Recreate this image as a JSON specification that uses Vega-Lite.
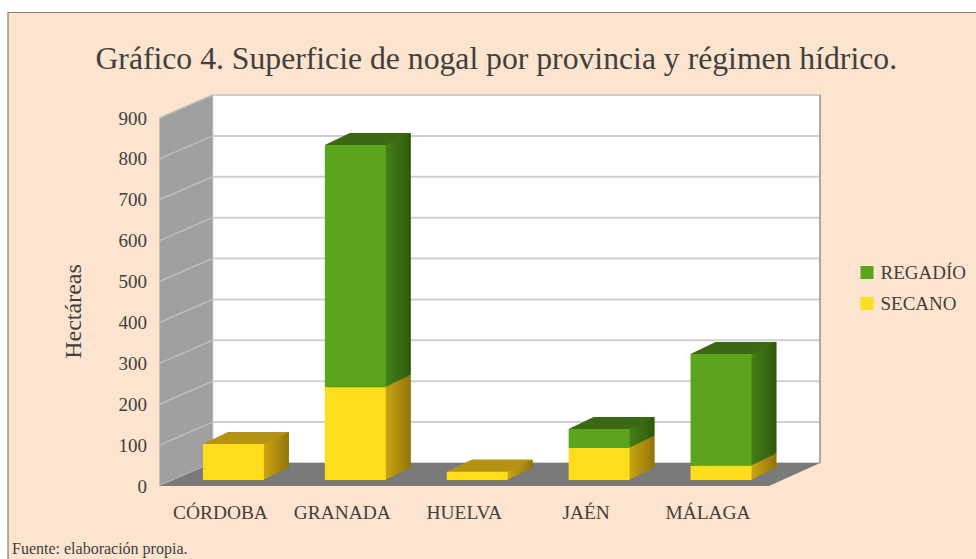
{"$schema":"https://vega.github.io/schema/vega-lite/v6.json","width":609.5,"height":368,"autosize":"none","padding":{"left":159.5,"top":118,"right":207,"bottom":73},"background":"#ffffff","config":{"view":{"stroke":null},"font":"Liberation Serif"},"resolve":{"axis":{"x":"independent","y":"independent"}},"title":{"text":"Gráfico 4. Superficie de nogal por provincia y régimen hídrico.","font":"Liberation Serif","fontSize":31.7,"fontWeight":"normal","color":"#404040","anchor":"middle","frame":"group","dx":32,"offset":0,"dy":64},"data":{"values":[{"provincia":"CÓRDOBA","regimen":"SECANO","hectareas":88},{"provincia":"GRANADA","regimen":"SECANO","hectareas":227},{"provincia":"GRANADA","regimen":"REGADÍO","hectareas":592},{"provincia":"HUELVA","regimen":"SECANO","hectareas":20},{"provincia":"JAÉN","regimen":"SECANO","hectareas":78},{"provincia":"JAÉN","regimen":"REGADÍO","hectareas":47},{"provincia":"MÁLAGA","regimen":"SECANO","hectareas":35},{"provincia":"MÁLAGA","regimen":"REGADÍO","hectareas":273}]},"transform":[{"stack":"hectareas","groupby":["provincia"],"sort":[{"field":"regimen","order":"descending"}],"as":["y0","y1"]}],"datasets":{"ticks":[{"v":0},{"v":100},{"v":200},{"v":300},{"v":400},{"v":500},{"v":600},{"v":700},{"v":800},{"v":900}],"one":[{"a":1}]},"layer":[{"data":{"name":"one"},"mark":{"type":"rect","fill":"#FDE4CE","stroke":"#8f7a66","strokeWidth":1.2},"encoding":{"x":{"value":-151.5},"x2":{"value":830},"y":{"value":-105.5},"y2":{"value":460}}},{"data":{"name":"one"},"mark":{"type":"rect","fill":"#ffffff","stroke":"#c8c8c8","strokeWidth":1.5},"encoding":{"x":{"value":53},"x2":{"value":660.5},"y":{"value":-23},"y2":{"value":345}}},{"data":{"name":"ticks"},"mark":{"type":"rule","color":"#cfcfcf","strokeWidth":2,"yOffset":-23},"encoding":{"x":{"value":53},"x2":{"value":660.5},"y":{"field":"v","type":"quantitative","axis":null}}},{"data":{"name":"one"},"mark":{"type":"rule","color":"#a8a8a8","strokeWidth":2},"encoding":{"x":{"value":660.5},"y":{"value":-23},"y2":{"value":345}}},{"data":{"name":"one"},"mark":{"type":"point","filled":true,"opacity":1,"size":4,"color":"#a0a0a0","shape":"M0,0L53,-23L53,-391L0,-368Z"},"encoding":{"x":{"value":0},"y":{"value":368}}},{"data":{"name":"ticks"},"mark":{"type":"rule","color":"#bdbdbd","strokeWidth":1.5,"y2Offset":-23},"encoding":{"x":{"value":0},"x2":{"value":53},"y":{"field":"v","type":"quantitative","axis":null},"y2":{"field":"v"}}},{"data":{"name":"one"},"mark":{"type":"point","filled":true,"opacity":1,"size":4,"color":"#7a7a7a","shape":"M0,0L609.5,0L660.5,-23L53,-23Z"},"encoding":{"x":{"value":0},"y":{"value":368}}},{"mark":{"type":"bar","width":61,"xOffset":38,"yOffset":-18,"y2Offset":-18},"encoding":{"x":{"field":"provincia","type":"nominal","sort":null,"axis":null},"y":{"field":"y1","type":"quantitative","axis":null},"y2":{"field":"y0"},"color":{"condition":{"test":"datum.regimen==='SECANO'","value":"#93770a"},"value":"#2f5a0c"}}},{"mark":{"type":"bar","width":61,"xOffset":35.9,"yOffset":-17,"y2Offset":-17},"encoding":{"x":{"field":"provincia","type":"nominal","sort":null,"axis":null},"y":{"field":"y1","type":"quantitative","axis":null},"y2":{"field":"y0"},"color":{"condition":{"test":"datum.regimen==='SECANO'","value":"#997b0b"},"value":"#315d0d"}}},{"mark":{"type":"bar","width":61,"xOffset":33.8,"yOffset":-16,"y2Offset":-16},"encoding":{"x":{"field":"provincia","type":"nominal","sort":null,"axis":null},"y":{"field":"y1","type":"quantitative","axis":null},"y2":{"field":"y0"},"color":{"condition":{"test":"datum.regimen==='SECANO'","value":"#9e7f0b"},"value":"#32610e"}}},{"mark":{"type":"bar","width":61,"xOffset":31.7,"yOffset":-15,"y2Offset":-15},"encoding":{"x":{"field":"provincia","type":"nominal","sort":null,"axis":null},"y":{"field":"y1","type":"quantitative","axis":null},"y2":{"field":"y0"},"color":{"condition":{"test":"datum.regimen==='SECANO'","value":"#a2830c"},"value":"#346410"}}},{"mark":{"type":"bar","width":61,"xOffset":29.7,"yOffset":-14,"y2Offset":-14},"encoding":{"x":{"field":"provincia","type":"nominal","sort":null,"axis":null},"y":{"field":"y1","type":"quantitative","axis":null},"y2":{"field":"y0"},"color":{"condition":{"test":"datum.regimen==='SECANO'","value":"#a7870c"},"value":"#366711"}}},{"mark":{"type":"bar","width":61,"xOffset":27.6,"yOffset":-13,"y2Offset":-13},"encoding":{"x":{"field":"provincia","type":"nominal","sort":null,"axis":null},"y":{"field":"y1","type":"quantitative","axis":null},"y2":{"field":"y0"},"color":{"condition":{"test":"datum.regimen==='SECANO'","value":"#ac8b0d"},"value":"#386b12"}}},{"mark":{"type":"bar","width":61,"xOffset":25.5,"yOffset":-12,"y2Offset":-12},"encoding":{"x":{"field":"provincia","type":"nominal","sort":null,"axis":null},"y":{"field":"y1","type":"quantitative","axis":null},"y2":{"field":"y0"},"color":{"condition":{"test":"datum.regimen==='SECANO'","value":"#b18f0e"},"value":"#396d13"}}},{"mark":{"type":"bar","width":61,"xOffset":23.4,"yOffset":-11,"y2Offset":-11},"encoding":{"x":{"field":"provincia","type":"nominal","sort":null,"axis":null},"y":{"field":"y1","type":"quantitative","axis":null},"y2":{"field":"y0"},"color":{"condition":{"test":"datum.regimen==='SECANO'","value":"#b5920e"},"value":"#3b7014"}}},{"mark":{"type":"bar","width":61,"xOffset":21.3,"yOffset":-10,"y2Offset":-10},"encoding":{"x":{"field":"provincia","type":"nominal","sort":null,"axis":null},"y":{"field":"y1","type":"quantitative","axis":null},"y2":{"field":"y0"},"color":{"condition":{"test":"datum.regimen==='SECANO'","value":"#ba960f"},"value":"#3d7315"}}},{"mark":{"type":"bar","width":61,"xOffset":19.2,"yOffset":-9,"y2Offset":-9},"encoding":{"x":{"field":"provincia","type":"nominal","sort":null,"axis":null},"y":{"field":"y1","type":"quantitative","axis":null},"y2":{"field":"y0"},"color":{"condition":{"test":"datum.regimen==='SECANO'","value":"#bf9a0f"},"value":"#3f7616"}}},{"mark":{"type":"bar","width":61,"xOffset":17.2,"yOffset":-8,"y2Offset":-8},"encoding":{"x":{"field":"provincia","type":"nominal","sort":null,"axis":null},"y":{"field":"y1","type":"quantitative","axis":null},"y2":{"field":"y0"},"color":{"condition":{"test":"datum.regimen==='SECANO'","value":"#c39e10"},"value":"#417a17"}}},{"mark":{"type":"bar","width":61,"xOffset":15.1,"yOffset":-7,"y2Offset":-7},"encoding":{"x":{"field":"provincia","type":"nominal","sort":null,"axis":null},"y":{"field":"y1","type":"quantitative","axis":null},"y2":{"field":"y0"},"color":{"condition":{"test":"datum.regimen==='SECANO'","value":"#c8a210"},"value":"#437d18"}}},{"transform":[{"joinaggregate":[{"op":"max","field":"y1","as":"top"}],"groupby":["provincia"]},{"filter":"datum.y1===datum.top"}],"mark":{"type":"point","filled":true,"opacity":1,"size":4,"shape":"M-17.5,-6L43.5,-6L68.5,-18L7.5,-18Z"},"encoding":{"x":{"field":"provincia","type":"nominal","sort":null,"axis":null},"y":{"field":"y1","type":"quantitative","axis":null},"color":{"condition":{"test":"datum.regimen==='SECANO'","value":"#b5920f"},"value":"#3b6813"}}},{"mark":{"type":"bar","width":61,"xOffset":13,"yOffset":-6,"y2Offset":-6},"encoding":{"x":{"field":"provincia","type":"nominal","sort":null,"title":null,"scale":{"domain":["CÓRDOBA","GRANADA","HUELVA","JAÉN","MÁLAGA"]},"axis":{"zindex":1,"domain":false,"ticks":false,"labelAngle":0,"labelFont":"Liberation Serif","labelFontSize":19.4,"labelColor":"#404040","labelPadding":17}},"y":{"field":"y1","type":"quantitative","scale":{"domain":[0,900],"nice":false},"title":"Hectáreas","axis":{"zindex":1,"values":[0,100,200,300,400,500,600,700,800,900],"domain":false,"ticks":false,"grid":false,"labelFont":"Liberation Serif","labelFontSize":19,"labelColor":"#404040","labelPadding":13,"titleFont":"Liberation Serif","titleFontSize":24,"titleFontWeight":"normal","titleColor":"#404040","titlePadding":33,"titleY":193}},"y2":{"field":"y0"},"color":{"field":"regimen","type":"nominal","scale":{"domain":["REGADÍO","SECANO"],"range":["#5BA51C","#FEDD1C"]},"legend":{"title":null,"orient":"none","legendX":698,"legendY":145,"symbolType":"square","symbolSize":170,"symbolOpacity":1,"rowPadding":11,"labelFont":"Liberation Serif","labelFontSize":19,"labelColor":"#404040","labelOffset":4}}}},{"data":{"name":"one"},"mark":{"type":"text","align":"left","baseline":"alphabetic","font":"Liberation Serif","fontSize":16,"color":"#404040"},"encoding":{"x":{"value":-147.5},"y":{"value":436},"text":{"value":"Fuente: elaboración propia."}}}]}
